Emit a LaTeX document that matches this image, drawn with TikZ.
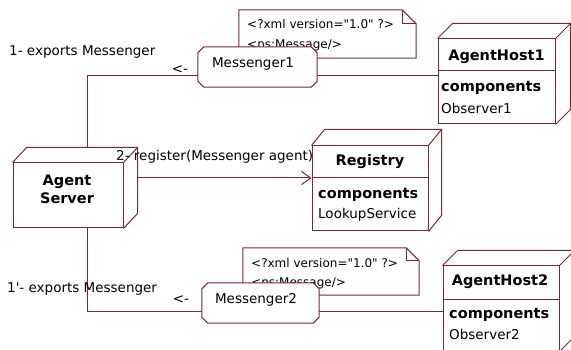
\documentclass[tikz,border=0pt]{standalone}
\usepackage{fontspec}
\setmainfont{DejaVu Sans}
\usetikzlibrary{arrows.meta}
\definecolor{umlred}{RGB}{125,40,45}

% depth edges of a UML node cube: #1 node, #2 dx, #3 dy (upwards)
\newcommand\cubeedges[3]{%
  \draw[edge] (#1.north west) -- ++(#2,-#3) -- ([shift={(#2,-#3)}]#1.north east)
    -- ([shift={(#2,-#3)}]#1.south east) -- (#1.south east);
  \draw[edge] (#1.north east) -- ++(#2,-#3);}
% note outline with folded corner: #1 node, #2 fold size
\newcommand\dogear[2]{%
  \draw[edge, fill=white] (#1.north west) -- ([xshift=-#2pt]#1.north east)
    -- ([yshift=-#2pt]#1.north east) -- (#1.south east) -- (#1.south west) -- cycle;
  \draw[edge] ([xshift=-#2pt]#1.north east) |- ([yshift=-#2pt]#1.north east);}
% component instance box with cut corners
\newcommand\chamferbox[1]{%
  \filldraw[edge, fill=white] ([xshift=6pt]#1.north west) -- ([xshift=-6pt]#1.north east)
    -- ([yshift=-6pt]#1.north east) -- ([yshift=6pt]#1.south east)
    -- ([xshift=-6pt]#1.south east) -- ([xshift=6pt]#1.south west)
    -- ([yshift=6pt]#1.south west) -- ([yshift=-6pt]#1.north west) -- cycle;}

\begin{document}
\begin{tikzpicture}[x=1pt,y=-1pt,
  edge/.style={draw=umlred, line width=1pt},
  face/.style={rectangle, draw=umlred, line width=1pt, fill=white, inner sep=0pt},
  frame/.style={rectangle, inner sep=0pt},
  body/.style={font=\fontsize{13.5}{16}\selectfont, inner sep=0pt},
  bold/.style={font=\fontsize{14.5}{18}\selectfont\bfseries, inner sep=0pt},
  notetext/.style={font=\fontsize{12}{14}\selectfont, inner sep=0pt, anchor=west},
]
\useasboundingbox[fill=white] (0,0) rectangle (571,350);

% XML notes
\node[frame, minimum width=177pt, minimum height=48pt] (n1) at (327.5,34) {};
\dogear{n1}{14}
\node[notetext] (n1a) at (247,24) {<?xml version=\textquotedbl1.0\textquotedbl{} ?>};
\node[notetext] (n1b) at (247,45) {<ns:Message/>};

\node[frame, minimum width=176pt, minimum height=47pt] (n2) at (331,271.5) {};
\dogear{n2}{13}
\node[notetext] (n2a) at (251,263) {<?xml version=\textquotedbl1.0\textquotedbl{} ?>};
\node[notetext] (n2b) at (251,283) {<ns:Message/>};

% deployment nodes (front faces)
\node[face, minimum width=110pt, minimum height=65pt] (srv) at (68,195.5) {};
\node[face, minimum width=117pt, minimum height=85pt] (host1) at (496.5,81.5) {};
\node[face, minimum width=116pt, minimum height=85pt] (reg) at (370,188.5) {};
\node[face, minimum width=116pt, minimum height=85pt] (host2) at (501,308.5) {};
\cubeedges{srv}{14}{15}
\cubeedges{host1}{15}{15}
\cubeedges{reg}{13}{16}
\cubeedges{host2}{15}{15}

% compartment separators
\coordinate (h1sep) at ([yshift=10.5pt]host1.west);
\coordinate (regsep) at ([yshift=10.5pt]reg.west);
\coordinate (h2sep) at ([yshift=9.5pt]host2.west);
\draw[edge] (h1sep) -- (h1sep -| host1.east);
\draw[edge] (regsep) -- (regsep -| reg.east);
\draw[edge] (h2sep) -- (h2sep -| host2.east);

% messenger instances
\node[frame, minimum width=119pt, minimum height=40pt] (m1) at (257.5,67) {};
\node[frame, minimum width=117pt, minimum height=40pt] (m2) at (260.5,303) {};

% links
\coordinate (srvtop) at ([shift={(75,-15)}]srv.north west);
\coordinate (srvbot) at ([xshift=75pt]srv.south west);
\coordinate (srvside) at ([xshift=14pt]srv.east);
\coordinate (m1in) at ([yshift=-9pt]m1.west);
\coordinate (m1out) at ([yshift=-9pt]m1.east);
\coordinate (m2in) at ([yshift=-8pt]m2.west);
\coordinate (m2out) at ([yshift=-8pt]m2.east);
\draw[edge] (srvtop) |- (m1in);
\draw[edge] (m1out) -- (m1out -| host1.west);
\draw[edge] (srvbot) |- (m2in);
\draw[edge] (m2out) -- (m2out -| host2.west);
\draw[edge, -{Straight Barb[length=9pt,width=13pt]}] (srvside |- regsep) -- (regsep);

\chamferbox{m1}
\chamferbox{m2}
\node[body] (m1t) at (253,64) {Messenger1};
\node[body] (m2t) at (256,300) {Messenger2};

% node texts
\node[bold, align=center] (srvt) at (67,189) {Agent\\Server};
\node[bold] (h1t) at (496.5,57) {AgentHost1};
\node[bold, anchor=west] (h1c) at (441,88) {components};
\node[body, anchor=west] (h1o) at (441,108) {Observer1};
\node[bold] (regt) at (370,162) {Registry};
\node[bold, anchor=west] (regc) at (318,195) {components};
\node[body, anchor=west] (regl) at (318,215) {LookupService};
\node[bold] (h2t) at (500,282) {AgentHost2};
\node[bold, anchor=west] (h2c) at (449,315) {components};
\node[body, anchor=west] (h2o) at (449,334) {Observer2};

% message labels
\node[body, anchor=west] (lab1) at (9,52) {1- exports Messenger};
\node[body] (arr1) at (180,70) {<-};
\node[body, anchor=west] (lab2) at (116,157) {2- register(Messenger agent)};
\node[body, anchor=west] (lab3) at (7,289) {1\textquotesingle- exports Messenger};
\node[body] (arr2) at (181,300) {<-};
\end{tikzpicture}
\end{document}
